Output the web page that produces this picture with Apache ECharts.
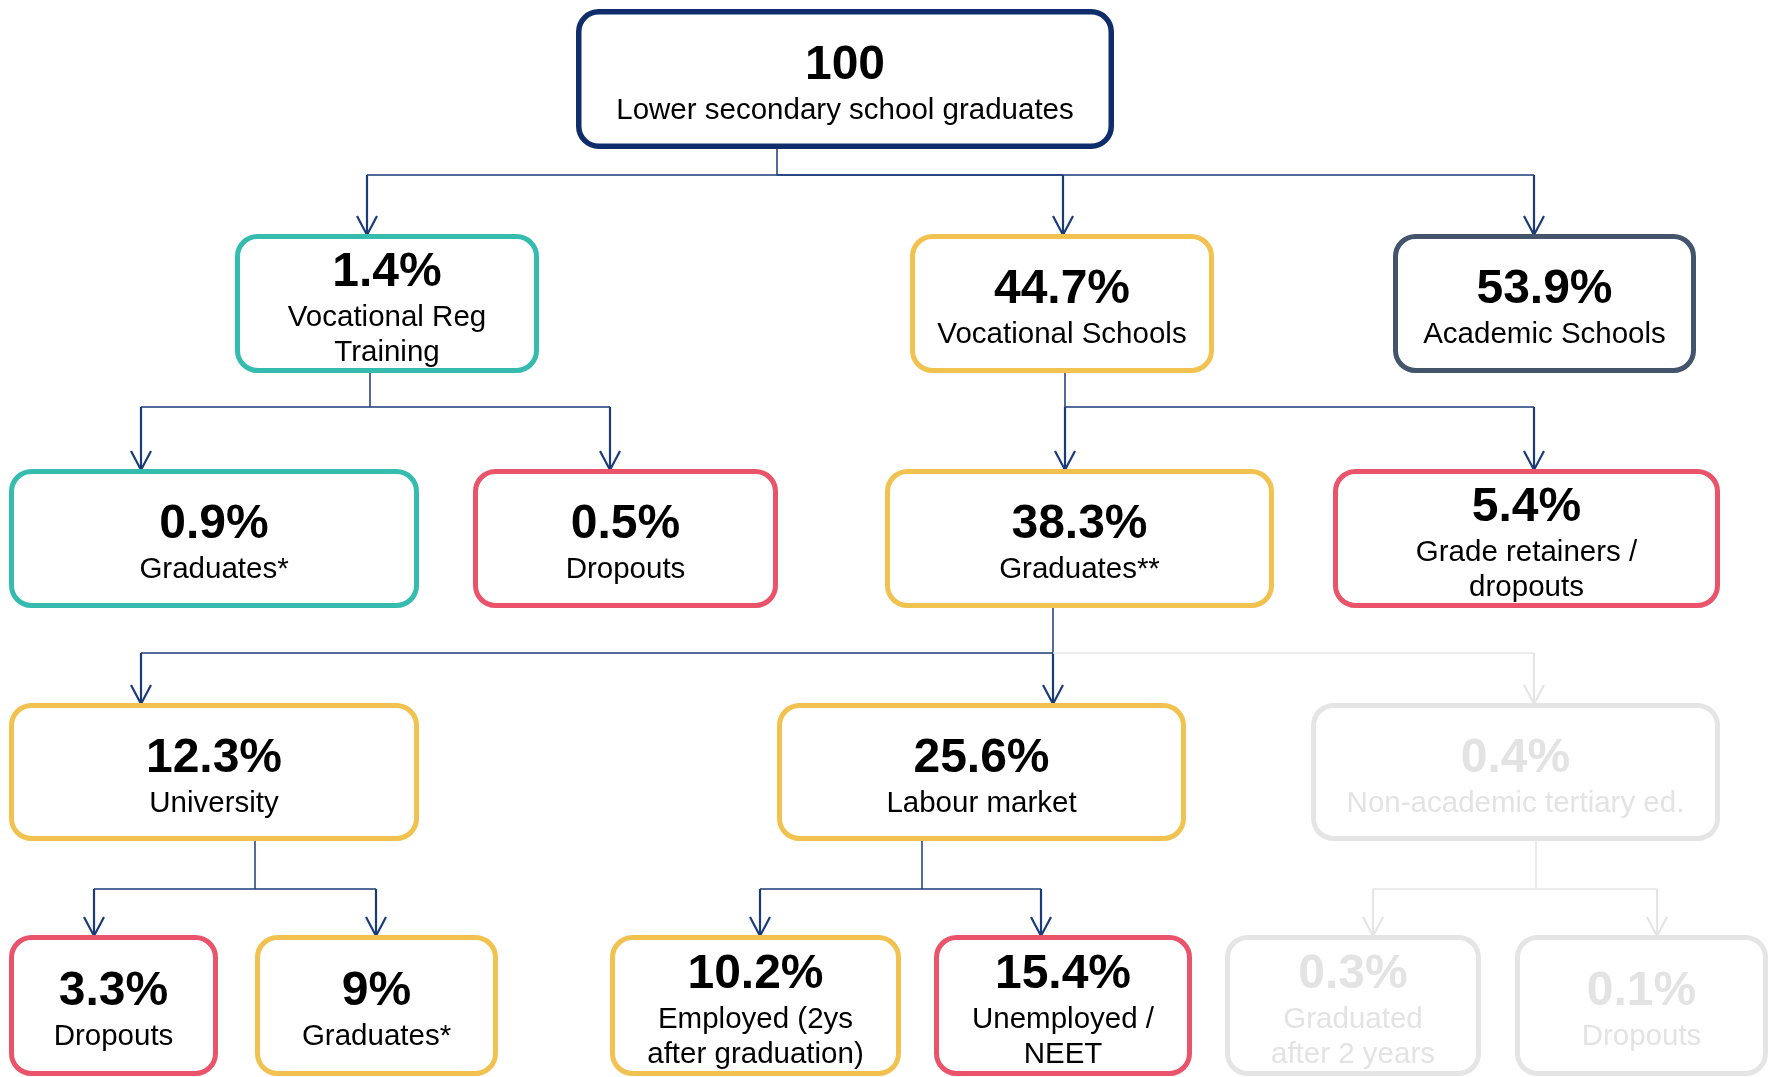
<!DOCTYPE html>
<html>
<head>
<meta charset="utf-8">
<script src="https://cdn.jsdelivr.net/npm/echarts@6/dist/echarts.min.js"></script>
<style>
  html, body { margin: 0; padding: 0; background: #fff; }
  #main { width: 1771px; height: 1077px; }
</style>
</head>
<body>
<div id="main"></div>
<script>
// node values and captions
var values = ['100', '1.4%', '44.7%', '53.9%', '0.9%', '0.5%', '38.3%', '5.4%',
  '12.3%', '25.6%', '0.4%', '3.3%', '9%', '10.2%', '15.4%', '0.3%', '0.1%'];
var captions = ['Lower secondary school graduates', 'Vocational Reg\nTraining', 'Vocational Schools',
  'Academic Schools', 'Graduates*', 'Dropouts', 'Graduates**', 'Grade retainers /\ndropouts',
  'University', 'Labour market', 'Non-academic tertiary ed.', 'Dropouts', 'Graduates*',
  'Employed (2ys\nafter graduation)', 'Unemployed /\nNEET', 'Graduated\nafter 2 years', 'Dropouts'];
var parents = [-1, 0, 0, 0, 1, 1, 2, 2, 6, 6, 6, 8, 8, 9, 9, 10, 10];
var groups = ['root', 'vrt', 'voc', 'acad', 'vrt', 'out', 'voc', 'out',
  'voc', 'voc', 'minor', 'out', 'voc', 'voc', 'out', 'minor', 'minor'];

// layout (pixel space of the hidden axes)
var rowY = [[9, 149], [234, 373], [469, 608], [703, 841], [935, 1076]];
var busY = [175, 407, 653, 889];
var level = [0, 1, 1, 1, 2, 2, 2, 2, 3, 3, 3, 4, 4, 4, 4, 4, 4];
var boxX = [[576, 1114], [235, 539], [910, 1214], [1393, 1696], [9, 419], [473, 778], [885, 1274],
  [1333, 1720], [9, 419], [777, 1186], [1311, 1720], [9, 218], [255, 498], [610, 901],
  [934, 1192], [1225, 1481], [1515, 1768]];
var stemX = {0: 777, 1: 370, 2: 1065, 6: 1053, 8: 255, 9: 922, 10: 1536};
var arrowX = [0, 367, 1063, 1534, 141, 610, 1065, 1534, 141, 1053, 1534, 94, 376, 760, 1041, 1373, 1657];

var colors = {
  root: '#0e2d6a', vrt: '#36bcae', voc: '#f1c24f', acad: '#44546a', out: '#e9546b', minor: '#e5e5e5'
};
var lineColor = '#1b3b78';
var font = '"Liberation Sans", Arial, sans-serif';

var boxData = values.map(function (v, i) {
  var y = rowY[level[i]];
  return [(boxX[i][0] + boxX[i][1]) / 2, (y[0] + y[1]) / 2, boxX[i][1] - boxX[i][0], y[1] - y[0]];
});

var parentIdx = Object.keys(stemX).map(Number);
var linkData = parentIdx.map(function (p) { return [stemX[p], busY[level[p]], p]; });

var myChart = echarts.init(document.getElementById('main'));

function renderBox(params, api) {
  var i = params.dataIndex;
  var c = api.coord([api.value(0), api.value(1)]);
  var s = api.size([api.value(2), api.value(3)]);
  var lw = i === 0 ? 5.5 : 5;
  var grey = groups[i] === 'minor';
  var txtColor = grey ? '#e3e3e3' : '#000';
  var lines = captions[i].split('\n').map(function (l) { return '{s|' + l + '}'; }).join('\n');
  return {
    type: 'group',
    children: [{
      type: 'rect',
      shape: { x: c[0] - s[0] / 2 + lw / 2, y: c[1] - s[1] / 2 + lw / 2, width: s[0] - lw, height: s[1] - lw, r: 20 },
      style: { fill: '#fff', stroke: colors[groups[i]], lineWidth: lw }
    }, {
      type: 'text',
      x: c[0],
      y: c[1] + 4,
      style: {
        text: '{v|' + values[i] + '}\n' + lines,
        align: 'center',
        verticalAlign: 'middle',
        rich: {
          v: { fontFamily: font, fontSize: 48, fontWeight: 'bold', lineHeight: 55, fill: txtColor, align: 'center' },
          s: { fontFamily: font, fontSize: 29.5, lineHeight: 35, fill: txtColor, align: 'center' }
        }
      }
    }]
  };
}

function renderLink(params, api) {
  var p = api.value(2);
  var bus = api.value(1);
  var sx = api.value(0);
  var kids = [];
  parents.forEach(function (q, k) { if (q === p) kids.push(k); });
  var pColor = groups[p] === 'minor' ? colors.minor : lineColor;
  var children = [{
    type: 'polyline',
    shape: { points: [api.coord([sx, rowY[level[p]][1]]), api.coord([sx, bus])] },
    style: { stroke: pColor, lineWidth: 1.5, fill: null }
  }];
  kids.forEach(function (k) {
    var col = groups[k] === 'minor' ? colors.minor : lineColor;
    var ax = arrowX[k];
    var top = rowY[level[k]][0] + 1;
    children.push({
      type: 'polyline',
      shape: { points: [api.coord([sx, bus]), api.coord([ax, bus])] },
      style: { stroke: col, lineWidth: 1.5, fill: null }
    });
    children.push({
      type: 'polyline',
      shape: { points: [api.coord([ax, bus]), api.coord([ax, top])] },
      style: { stroke: col, lineWidth: 2.2, fill: null }
    });
    children.push({
      type: 'polyline',
      shape: { points: [api.coord([ax - 10, top - 19]), api.coord([ax, top]), api.coord([ax + 10, top - 19])] },
      style: { stroke: col, lineWidth: 2.2, fill: null }
    });
  });
  return { type: 'group', children: children };
}

var option = {
  animation: false,
  backgroundColor: '#fff',
  grid: { left: 0, right: 0, top: 0, bottom: 0 },
  xAxis: { type: 'value', min: 0, max: 1771, show: false },
  yAxis: { type: 'value', min: 0, max: 1077, inverse: true, show: false },
  series: [
    {
      type: 'custom',
      name: 'links',
      renderItem: renderLink,
      data: linkData,
      z: 1
    },
    {
      type: 'custom',
      name: 'boxes',
      renderItem: renderBox,
      data: boxData,
      z: 2
    }
  ]
};
myChart.setOption(option);
</script>
</body>
</html>
